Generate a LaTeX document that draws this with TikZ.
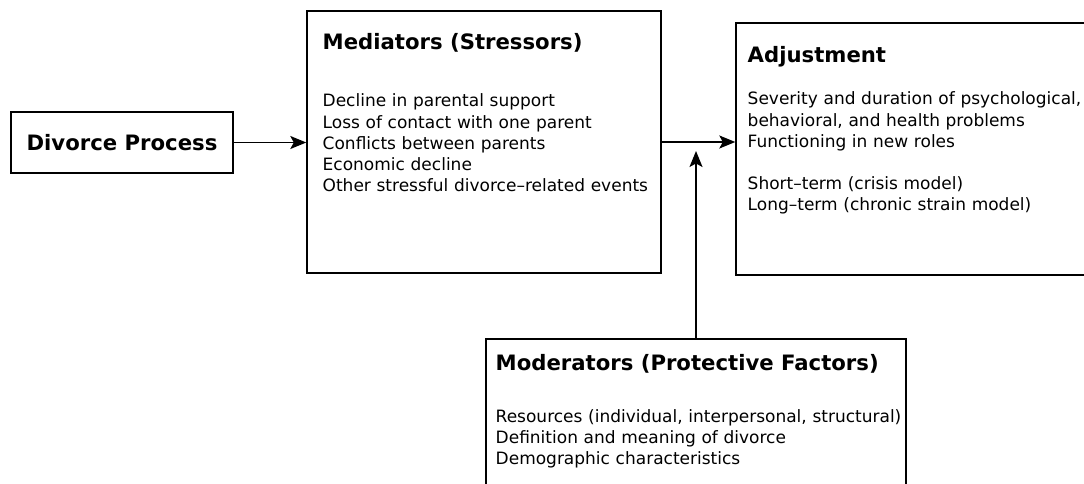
\documentclass[tikz,border=0pt]{standalone}
\usepackage{fontspec}
\setmainfont{DejaVu Sans}
\usetikzlibrary{arrows.meta}
\begin{document}
\begin{tikzpicture}
  [x=1pt,y=-1pt,line width=1.4pt,
   box/.style={draw,rectangle,inner sep=0pt},
   heading/.style={anchor=base west,inner sep=0pt,font=\fontsize{21.2}{25}\selectfont\bfseries},
   items/.style={anchor=base west,inner sep=0pt,text width=560pt,align=left,font=\fontsize{17}{21.2}\selectfont},
   link/.style={-{Stealth[length=16pt,width=13pt,inset=3.5pt]}}]
    \path[use as bounding box,clip] (0,0) rectangle (1084,484);

    \node (divbox) [box,minimum width=222pt,minimum height=61pt] at (122,142.5)
      {\fontsize{21.2}{25}\selectfont\bfseries Divorce Process};
    \node (medbox) [box,minimum width=354pt,minimum height=262pt] at (484,142) {};
    \node (adjbox) [box,minimum width=384pt,minimum height=252pt] at (928,149) {};
    \node (modbox) [box,minimum width=420pt,minimum height=201pt] at (696,439.5) {};

    \node (medtitle) [heading] at (322,50)  {Mediators (Stressors)};
    \node (medlist)  [items]   at (322,107) {Decline in parental support\\
      Loss of contact with one parent\\ Conflicts between parents\\
      Economic decline\\ Other stressful divorce--related events};

    \node (adjtitle) [heading] at (747,63)  {Adjustment};
    \node (adjlist)  [items]   at (747,105) {Severity and duration of psychological,\\
      behavioral, and health problems\\ Functioning in new roles\\[21.2pt]
      Short--term (crisis model)\\ Long--term (chronic strain model)};

    \node (modtitle) [heading] at (495,370) {Moderators (Protective Factors)};
    \node (modlist)  [items]   at (495,422) {Resources (individual, interpersonal, structural)\\
      Definition and meaning of divorce\\ Demographic characteristics};

    \coordinate (meet) at (696,151);
    \draw[link] (divbox.east) -- (divbox.east -| medbox.west);
    \draw[link] (medbox.east) -- (medbox.east -| adjbox.west);
    \draw[link] (modbox.north) -- (meet);
\end{tikzpicture}
\end{document}
